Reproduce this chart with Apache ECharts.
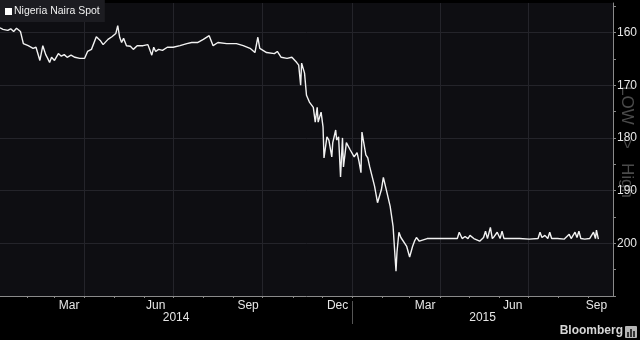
<!DOCTYPE html>
<html>
<head>
<meta charset="utf-8">
<script src="https://cdn.jsdelivr.net/npm/echarts@6/dist/echarts.min.js"></script>
<style>html,body{margin:0;padding:0;background:#000;}#c{width:640px;height:340px;}</style>
</head>
<body>
<div id="c"></div>
<script>
const seriesName = 'Nigeria Naira Spot';
const dates = [
'2014-01-04','2014-01-07','2014-01-09','2014-01-12','2014-01-15','2014-01-18','2014-01-21','2014-01-25','2014-01-28','2014-02-02',
'2014-02-07','2014-02-10','2014-02-14','2014-02-17','2014-02-20','2014-02-22','2014-02-24','2014-02-26','2014-03-01','2014-03-05',
'2014-03-08','2014-03-11','2014-03-14','2014-03-18','2014-03-22','2014-03-27','2014-04-01','2014-04-04','2014-04-08','2014-04-13',
'2014-04-17','2014-04-20','2014-04-25','2014-04-29','2014-05-03','2014-05-05','2014-05-07','2014-05-09','2014-05-11','2014-05-14',
'2014-05-18','2014-05-21','2014-05-25','2014-05-31','2014-06-05','2014-06-07','2014-06-09','2014-06-11','2014-06-13','2014-06-16',
'2014-06-20','2014-06-25','2014-07-01','2014-07-08','2014-07-15','2014-07-20','2014-07-26','2014-08-01','2014-08-07','2014-08-11',
'2014-08-16','2014-08-25','2014-09-04','2014-09-11','2014-09-18','2014-09-23','2014-09-26','2014-09-28','2014-10-05','2014-10-13',
'2014-10-16','2014-10-20','2014-10-26','2014-10-31','2014-11-05','2014-11-07','2014-11-09','2014-11-10','2014-11-13','2014-11-15',
'2014-11-18','2014-11-22','2014-11-24','2014-11-26','2014-11-27','2014-11-30','2014-12-02','2014-12-03','2014-12-06','2014-12-08',
'2014-12-11','2014-12-12','2014-12-15','2014-12-16','2014-12-18','2014-12-20','2014-12-22','2014-12-23','2014-12-26','2014-12-30',
'2015-01-03','2015-01-06','2015-01-08','2015-01-10','2015-01-11','2015-01-13','2015-01-15','2015-01-17','2015-01-19','2015-01-21',
'2015-01-24','2015-01-27','2015-01-31','2015-02-02','2015-02-05','2015-02-09','2015-02-12','2015-02-14','2015-02-15','2015-02-16',
'2015-02-18','2015-02-20','2015-02-22','2015-02-26','2015-03-01','2015-03-04','2015-03-06','2015-03-08','2015-03-11','2015-03-19',
'2015-04-01','2015-04-19','2015-04-21','2015-04-24','2015-04-27','2015-04-30','2015-05-02','2015-05-06','2015-05-12','2015-05-16',
'2015-05-18','2015-05-20','2015-05-23','2015-05-25','2015-05-27','2015-05-30','2015-06-02','2015-06-04','2015-06-06','2015-06-12',
'2015-06-22','2015-07-02','2015-07-11','2015-07-13','2015-07-15','2015-07-18','2015-07-21','2015-07-23','2015-07-25','2015-07-31',
'2015-08-07','2015-08-12','2015-08-14','2015-08-18','2015-08-20','2015-08-22','2015-08-24','2015-08-28','2015-09-02','2015-09-06',
'2015-09-08','2015-09-09','2015-09-11'
];
const values = [
159.1,159.4,159.1,159.6,159.3,159.8,159.2,159.8,162.1,162.5,
163.0,162.8,165.3,162.5,164.2,164.9,165.7,164.7,165.3,164.0,
164.5,164.2,164.7,164.3,164.7,164.9,164.9,163.6,163.2,160.8,
161.5,162.3,161.3,160.8,160.2,158.7,160.9,161.9,161.1,162.5,
162.6,163.2,162.5,162.5,162.3,162.6,164.3,162.8,163.6,163.2,
163.4,162.8,162.8,162.5,162.1,161.9,161.9,161.3,160.6,162.5,
161.9,162.1,162.1,162.5,163.0,163.8,160.9,163.0,163.8,164.0,
163.6,164.7,164.9,164.7,165.7,166.2,170.0,165.8,167.7,171.9,
173.2,174.2,177.0,174.2,177.0,175.1,177.9,183.8,179.8,180.4,
183.6,180.9,178.5,180.4,179.8,187.4,180.0,185.5,180.9,182.3,
183.6,182.8,184.5,186.6,178.9,179.1,183.2,183.8,185.5,185.5,
189.2,192.3,189.8,187.5,189.8,193.0,196.8,202.5,205.3,201.7,
197.9,198.9,199.2,200.6,202.6,200.6,199.6,198.9,199.6,199.1,
199.1,199.1,197.9,199.1,198.7,199.1,198.5,199.1,199.6,198.9,
197.7,199.1,197.0,199.1,198.7,197.9,199.1,197.7,199.1,199.1,
199.1,199.2,199.1,197.9,198.9,198.5,199.1,197.9,199.1,199.1,
199.2,198.3,199.1,197.9,198.9,197.7,199.1,199.2,199.1,197.9,
199.1,197.5,199.2
];
const yTickLabels = [160, 170, 180, 190, 200];
const yMinorTicks = [155, 160, 165, 170, 175, 180, 185, 190, 195, 200, 205, 210];
const monthLabelDates = ['2014-03-16','2014-06-13','2014-09-16','2014-12-17','2015-03-17','2015-06-15','2015-09-09'];
const monthTickDates = ['2014-02-01','2014-03-01','2014-04-01','2014-05-01','2014-06-01','2014-07-01','2014-08-01','2014-09-01','2014-10-01','2014-11-01','2014-12-01',
  '2015-01-01','2015-02-01','2015-03-01','2015-04-01','2015-05-01','2015-06-01','2015-07-01','2015-08-01','2015-09-01'];
const quarterLineDates = ['2014-04-01','2014-07-01','2014-10-01','2015-01-01','2015-04-01','2015-07-01'];
const yearLabelDates = ['2014-07-04','2015-05-15'];
const yearBoundary = ['2015-01-01'];
const xMinDate = '2014-01-04', xMaxDate = '2015-09-26';
const monthNames = ['Jan','Feb','Mar','Apr','May','Jun','Jul','Aug','Sep','Oct','Nov','Dec'];

function ts(s) { const p = s.split('-').map(Number); return new Date(p[0], p[1]-1, p[2]).getTime(); }

const chart = echarts.init(document.getElementById('c'), null, {renderer: 'canvas'});
const gridLines = '#24242a';
const font = 'Liberation Sans, Arial, sans-serif';

chart.setOption({
  animation: false,
  backgroundColor: '#000',
  textStyle: { fontFamily: font },
  legend: {
    left: 0, top: 0,
    data: [seriesName],
    backgroundColor: '#1c1c21',
    padding: [6, 5, 5, 5],
    icon: 'rect', itemWidth: 7, itemHeight: 7,
    textStyle: { color: '#f0f0f0', fontSize: 10.5, fontFamily: font, padding: [0, 0, 0, -3] },
    selectedMode: false
  },
  grid: {
    left: 0, right: 27, top: 3, bottom: 44,
    show: true, backgroundColor: '#0e0e12', borderWidth: 0
  },
  xAxis: [{
    type: 'value', min: ts(xMinDate), max: ts(xMaxDate),
    axisLine: { show: true, onZero: false, lineStyle: { color: '#8a8a8a', width: 1 } },
    axisTick: { show: true, customValues: monthTickDates.map(ts), length: 2, lineStyle: { color: '#8a8a8a' } },
    axisLabel: {
      customValues: monthLabelDates.map(ts), margin: 4,
      color: '#e6e6e6', fontSize: 12, fontFamily: font,
      formatter: function (v) { return monthNames[new Date(v).getMonth()]; }
    },
    splitLine: { show: false }
  }, {
    type: 'value', min: ts(xMinDate), max: ts(xMaxDate),
    position: 'bottom', offset: 5,
    axisLine: { show: false, onZero: false },
    axisTick: { show: true, customValues: yearBoundary.map(ts), length: 23, lineStyle: { color: '#555' } },
    axisLabel: {
      customValues: yearLabelDates.map(ts), margin: 11,
      color: '#e6e6e6', fontSize: 12, fontFamily: font,
      formatter: function (v) { return String(new Date(v).getFullYear()); }
    },
    splitLine: { show: false }
  }],
  yAxis: {
    type: 'value', position: 'right', inverse: true,
    min: 154.4, max: 210,
    axisLine: { show: true, lineStyle: { color: '#8a8a8a', width: 1 } },
    axisTick: { show: true, customValues: yMinorTicks, length: 3, lineStyle: { color: '#8a8a8a' } },
    axisLabel: { customValues: yTickLabels, margin: 4, color: '#e6e6e6', fontSize: 12, fontFamily: font },
    splitLine: { show: false }
  },
  series: [{
    name: seriesName, type: 'line', xAxisIndex: 0,
    data: dates.map((d, i) => [ts(d), values[i]]),
    showSymbol: false, symbol: 'none',
    lineStyle: { color: '#f2f2f2', width: 1.4 },
    itemStyle: { color: '#ffffff' },
    z: 5,
    markLine: {
      silent: true, symbol: 'none', label: { show: false },
      lineStyle: { color: gridLines, width: 1, type: 'solid' },
      emphasis: { disabled: true },
      z: 1,
      data: yTickLabels.map(v => ({ yAxis: v })).concat(quarterLineDates.map(d => ({ xAxis: ts(d) })))
    }
  }],
  graphic: [
    {
      type: 'text', x: 627, y: 142, rotation: -Math.PI / 2, z: 0,
      style: { text: 'LOW   >   High', fill: '#4a4a4a', font: '17px ' + font, align: 'center', verticalAlign: 'middle' }
    },
    {
      type: 'text', right: 17, top: 325,
      style: { text: 'Bloomberg', fill: '#d6d6d6', font: 'bold 12px ' + font }
    },
    {
      type: 'group', right: 3, top: 326,
      children: [
        { type: 'rect', shape: { x: 0, y: 0, width: 12, height: 12, r: 1 }, style: { fill: '#b5b5b5' } },
        { type: 'rect', shape: { x: 2, y: 6, width: 2, height: 5 }, style: { fill: '#333' } },
        { type: 'rect', shape: { x: 5, y: 3, width: 2, height: 8 }, style: { fill: '#333' } },
        { type: 'rect', shape: { x: 8, y: 5, width: 2, height: 6 }, style: { fill: '#333' } }
      ]
    }
  ]
});
</script>
</body>
</html>
